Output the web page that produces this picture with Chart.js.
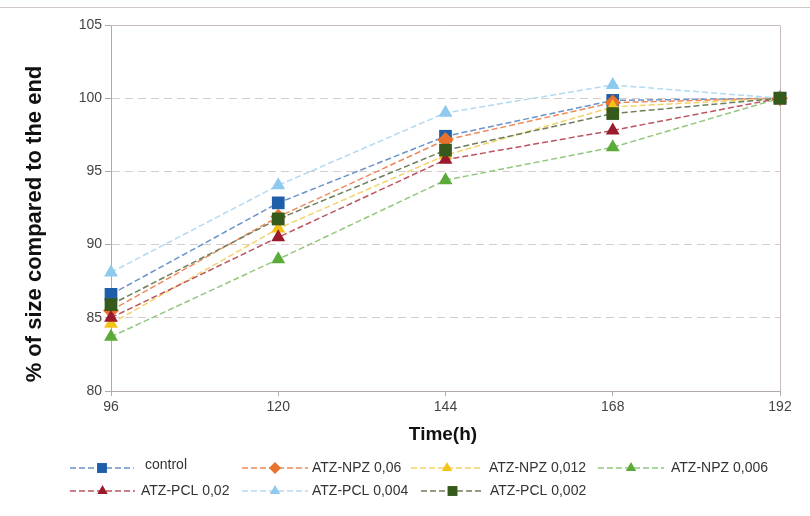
<!DOCTYPE html>
<html><head><meta charset="utf-8">
<script src="https://cdn.jsdelivr.net/npm/chart.js@4/dist/chart.umd.min.js"></script>
<style>html,body{margin:0;padding:0;background:#fff}#wrap{width:810px;height:516px;position:relative}</style>
</head><body><div id="wrap"><canvas id="c" width="810" height="516"></canvas></div>
<script>
// ---- data ----
const hours = [96, 120, 144, 168, 192];
const yTickValues = [80, 85, 90, 95, 100, 105];
const seriesNames = ['control', 'ATZ-NPZ 0,06', 'ATZ-NPZ 0,012', 'ATZ-NPZ 0,006', 'ATZ-PCL 0,02', 'ATZ-PCL 0,004', 'ATZ-PCL 0,002'];
const control   = [86.6, 92.85, 97.4, 99.85, 100];
const npz006    = [85.5, 91.9, 97.15, 99.7, 100];
const npz0012   = [84.6, 91.1, 96.1, 99.4, 100];
const npz0006   = [83.7, 89.0, 94.4, 96.65, 100];
const pcl002    = [85.0, 90.5, 95.8, 97.8, 100];
const pcl0004   = [88.1, 94.05, 99.0, 100.9, 100];
const pcl0002   = [85.9, 91.75, 96.45, 98.95, 100];
const seriesValues = [control, npz006, npz0012, npz0006, pcl002, pcl0004, pcl0002];

// ---- styles ----
const markerColors = ['#1f5ea8', '#e9712d', '#f4c31a', '#5bab3a', '#9a1a2b', '#8dcaee', '#355a1c'];
const lineColors   = ['#6a93c8', '#ee8b5c', '#f3d36a', '#93c77e', '#bb5560', '#b2daf2', '#6d7f5a'];
const shapes       = ['rect', 'rectRot', 'triangle', 'triangle', 'triangle', 'triangle', 'rect'];
const radii        = [9, 8, 8, 8, 8, 8, 9];
const FONT = "'Liberation Sans', Arial, sans-serif";

const datasets = seriesNames.map((name, i) => ({
  label: name,
  data: hours.map((h, j) => ({x: h, y: seriesValues[i][j]})),
  borderColor: lineColors[i],
  backgroundColor: markerColors[i],
  pointBackgroundColor: markerColors[i],
  pointBorderColor: markerColors[i],
  pointBorderWidth: 0,
  pointStyle: shapes[i],
  pointRadius: radii[i],
  borderWidth: 1.5,
  borderDash: [6, 3],
  tension: 0,
  clip: false,
  order: seriesNames.length - i
}));

// legend layout (column starts)
const legendItems = [
  {i: 0, x0: 70,  x1: 134, tx: 145, y: 468, ty: 465},
  {i: 1, x0: 242, x1: 308, tx: 312, y: 468, ty: 468},
  {i: 2, x0: 411, x1: 483, tx: 489, y: 468, ty: 468},
  {i: 3, x0: 598, x1: 664, tx: 671, y: 468, ty: 468},
  {i: 4, x0: 70,  x1: 135, tx: 141, y: 491, ty: 491},
  {i: 5, x0: 242, x1: 308, tx: 312, y: 491, ty: 491},
  {i: 6, x0: 421, x1: 484, tx: 490, y: 491, ty: 491}
];

const deco = {
  id: 'deco',
  beforeDatasetsDraw(chart) {
    const {ctx, chartArea: a} = chart;
    ctx.save();
    ctx.lineWidth = 1;
    ctx.strokeStyle = '#d2c9c6';
    ctx.beginPath(); ctx.moveTo(0, 7.5); ctx.lineTo(810, 7.5); ctx.stroke();
    ctx.strokeStyle = '#c8bfbc';
    ctx.beginPath();
    ctx.moveTo(a.left, a.top + 0.5); ctx.lineTo(a.right + 0.5, a.top + 0.5); ctx.lineTo(a.right + 0.5, a.bottom);
    ctx.stroke();
    ctx.restore();
  },
  afterDraw(chart) {
    const {ctx} = chart;
    ctx.save();
    // axis titles
    ctx.fillStyle = '#111';
    ctx.textAlign = 'center';
    ctx.textBaseline = 'middle';
    ctx.font = "bold 19px " + FONT;
    ctx.fillText('Time(h)', 443, 435);
    ctx.save();
    ctx.translate(35, 224);
    ctx.rotate(-Math.PI / 2);
    ctx.font = "bold 22px " + FONT;
    ctx.fillText('% of size compared to the end', 0, 0);
    ctx.restore();
    // legend
    legendItems.forEach(it => {
      const i = it.i;
      ctx.save();
      ctx.strokeStyle = lineColors[i];
      ctx.lineWidth = 1.5;
      ctx.setLineDash([6, 3]);
      ctx.beginPath(); ctx.moveTo(it.x0, it.y); ctx.lineTo(it.x1, it.y); ctx.stroke();
      ctx.setLineDash([]);
      ctx.fillStyle = markerColors[i];
      ctx.strokeStyle = markerColors[i];
      Chart.helpers.drawPoint(ctx, {pointStyle: shapes[i], radius: radii[i] - 2, rotation: 0, borderWidth: 0}, (it.x0 + it.x1) / 2, it.y);
      ctx.restore();
      ctx.fillStyle = '#333';
      ctx.textAlign = 'left';
      ctx.textBaseline = 'middle';
      ctx.font = "14px " + FONT;
      ctx.fillText(seriesNames[i], it.tx, it.ty);
    });
    ctx.restore();
  }
};

new Chart(document.getElementById('c'), {
  type: 'line',
  data: {datasets},
  options: {
    responsive: false,
    animation: false,
    layout: {padding: {top: 25, right: 30, left: 0, bottom: 0}},
    plugins: {legend: {display: false}, tooltip: {enabled: false}},
    scales: {
      x: {
        type: 'linear', min: 96, max: 192,
        afterBuildTicks: s => { s.ticks = hours.map(v => ({value: v})); },
        ticks: {color: '#444', font: {family: FONT, size: 14}, padding: 3, maxRotation: 0},
        grid: {drawOnChartArea: false, drawTicks: true, tickLength: 5, tickColor: '#b3aaa7', tickBorderDash: []},
        border: {display: true, color: '#b3aaa7', width: 1},
        afterFit: s => { s.height = 125; }
      },
      y: {
        min: 80, max: 105,
        afterBuildTicks: s => { s.ticks = yTickValues.map(v => ({value: v})); },
        ticks: {color: '#444', font: {family: FONT, size: 14}, padding: 3},
        grid: {
          color: c => (c.tick && (c.tick.value === 80 || c.tick.value === 105)) ? 'rgba(0,0,0,0)' : '#d6cdca',
          lineWidth: 1, tickLength: 6, tickColor: '#b3aaa7', tickBorderDash: []
        },
        border: {display: true, color: '#b3aaa7', width: 1, dash: [8, 5]},
        afterFit: s => { s.width = 111; }
      }
    }
  },
  plugins: [deco]
});
</script>
</body></html>
